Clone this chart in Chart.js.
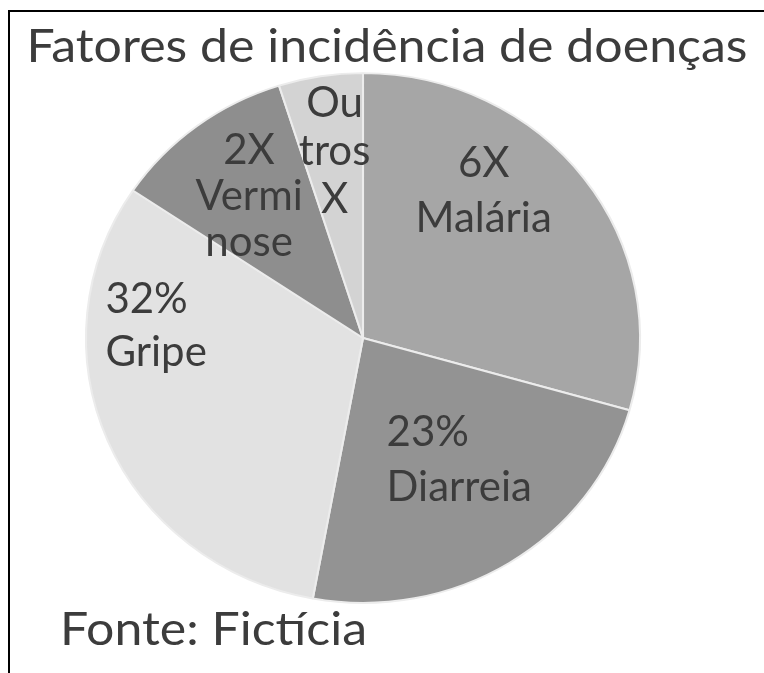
<!DOCTYPE html>
<html>
<head>
<meta charset="utf-8">
<script src="https://cdn.jsdelivr.net/npm/chart.js@4.4.1/dist/chart.umd.min.js"></script>
<style>
  html, body { margin: 0; padding: 0; background: #fff; }
  body { width: 764px; height: 673px; overflow: hidden; position: relative; }
  #frame { position: absolute; left: 8px; top: 10px; width: 760px; height: 670px;
           border-left: 2px solid #000; border-top: 2px solid #000; }
  #c { position: absolute; left: 10px; top: 12px; }
</style>
</head>
<body>
<div id="frame"></div>
<canvas id="c" width="754" height="661"></canvas>
<script>
// ---- data ----
const categories = ['Malária', 'Diarreia', 'Gripe', 'Verminose', 'Outros'];
const values = [29.4, 23.5, 31.5, 10.7, 4.9];
const labelLines = [
  ['6X', 'Malária'],
  ['23%', 'Diarreia'],
  ['32%', 'Gripe'],
  ['2X', 'Vermi', 'nose'],
  ['Ou', 'tros', 'X']
];
const titleText = 'Fatores de incidência de doenças';
const sourceText = 'Fonte: Fictícia';

// ---- styles / placement (not data) ----
const sliceColors = ['#a6a6a6', '#939393', '#e2e2e2', '#8e8e8e', '#d3d3d3'];
// [fraction along slice angle, fraction of radius, text alignment]
const labelPlacement = [
  [0.36, 0.706, 'center'],
  [0.753, 0.469, 'left'],
  [0.726, 0.931, 'left'],
  [0.48, 0.673, 'center'],
  [0.53, 0.711, 'center']
];
const labelLineHeight = [55, 55, 53, 46, 48];
const textColor = '#3c3c3c';
const fontFamily = 'Lato, "Open Sans", sans-serif';
const pieStretch = { x: 1.026, y: 0.981 };

function fitText(ctx, text, x, y, width, align) {
  const w = ctx.measureText(text).width;
  const s = width / w;
  ctx.save();
  ctx.translate(align === 'center' ? x - width / 2 : x, y);
  ctx.scale(s, 1);
  ctx.textAlign = 'left';
  ctx.fillText(text, 0, 0);
  ctx.restore();
}

const stretchPlugin = {
  id: 'stretchPlugin',
  beforeDatasetsDraw(chart) {
    const a = chart.chartArea;
    const cx = (a.left + a.right) / 2, cy = (a.top + a.bottom) / 2;
    const ctx = chart.ctx;
    ctx.save();
    ctx.translate(cx, cy);
    ctx.scale(pieStretch.x, pieStretch.y);
    ctx.translate(-cx, -cy);
  },
  afterDatasetsDraw(chart) {
    chart.ctx.restore();
  }
};

const textPlugin = {
  id: 'textPlugin',
  afterDraw(chart) {
    const ctx = chart.ctx;
    ctx.save();
    ctx.fillStyle = textColor;
    ctx.font = '46px ' + fontFamily;
    ctx.textBaseline = 'alphabetic';
    fitText(ctx, titleText, 377, 50, 721, 'center');
    fitText(ctx, sourceText, 50, 633, 307, 'left');
    const meta = chart.getDatasetMeta(0);
    ctx.font = '42px ' + fontFamily;
    ctx.textBaseline = 'middle';
    meta.data.forEach((arc, i) => {
      const p = arc.getProps(['x', 'y', 'startAngle', 'endAngle', 'outerRadius'], true);
      const [fa, fr, align] = labelPlacement[i];
      const ang = p.startAngle + (p.endAngle - p.startAngle) * fa;
      const r = p.outerRadius * fr;
      const cx = p.x + Math.cos(ang) * r * pieStretch.x;
      const cy = p.y + Math.sin(ang) * r * pieStretch.y;
      const lines = labelLines[i];
      const lh = labelLineHeight[i];
      const y0 = cy - lh * (lines.length - 1) / 2;
      ctx.textAlign = align;
      lines.forEach((t, k) => ctx.fillText(t, cx, y0 + k * lh));
    });
    ctx.restore();
  }
};

new Chart(document.getElementById('c'), {
  type: 'pie',
  data: {
    labels: categories,
    datasets: [{
      data: values,
      backgroundColor: sliceColors,
      borderColor: '#ececec',
      borderWidth: 2
    }]
  },
  options: {
    responsive: false,
    animation: false,
    layout: { padding: { left: 82, right: 130, top: 55, bottom: 64 } },
    plugins: {
      legend: { display: false },
      tooltip: { enabled: false },
      title: { display: false }
    }
  },
  plugins: [stretchPlugin, textPlugin]
});
</script>
</body>
</html>
